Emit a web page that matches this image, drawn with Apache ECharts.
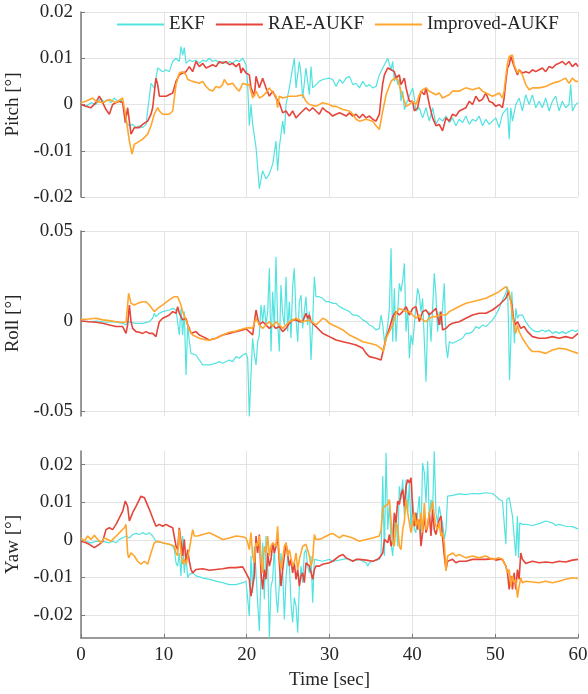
<!DOCTYPE html>
<html>
<head>
<meta charset="utf-8">
<script src="https://cdn.jsdelivr.net/npm/echarts@6/dist/echarts.min.js"></script>
<style>html,body{margin:0;padding:0;background:#fff}#c{width:588px;height:694px}</style>
</head>
<body>
<div id="c"></div>
<script>
const seriesNames = ['EKF', 'RAE-AUKF', 'Improved-AUKF'];
const panelNames = ['Pitch [°]', 'Roll [°]', 'Yaw [°]'];
const xTicks = [0, 10, 20, 30, 40, 50, 60];
const pitchTicks = [-0.02, -0.01, 0, 0.01, 0.02];
const rollTicks = [-0.05, 0, 0.05];
const yawTicks = [-0.02, -0.01, 0, 0.01, 0.02];
const yLimits = [[-0.02, 0.02], [-0.0528, 0.05], [-0.0261, 0.0236]];

const pitchEKF = [[0,0],[0.6,-0.0004],[1.2,0.0004],[1.8,0],[2.4,0.0014],[2.8,0.0004],[3.2,0.0011],[3.6,0.0004],[4.0,0.0014],[4.4,0.0007],[4.8,0.0011],[5.03,0.0004],[5.43,-0.0039],[5.84,-0.0046],[6.24,-0.0043],[6.64,-0.005],[7.04,-0.0046],[7.44,-0.005],[7.85,-0.0043],[8.05,-0.0039],[8.45,0.0046],[8.85,0.0036],[9.26,0.0079],[9.46,0.0075],[9.86,0.0071],[10.26,0.0075],[10.66,0.0071],[11.07,0.0093],[11.47,0.0100],[11.87,0.0093],[12.07,0.0125],[12.27,0.0107],[12.47,0.0123],[12.68,0.0089],[13.08,0.0096],[13.48,0.0093],[13.88,0.0096],[14.29,0.0089],[14.69,0.0096],[15.09,0.0093],[15.49,0.0100],[15.9,0.0093],[16.3,0.0096],[16.7,0.0089],[17.1,0.0093],[17.51,0.0089],[17.91,0.0093],[18.31,0.0089],[18.71,0.0096],[19.11,0.0093],[19.52,0.0100],[19.92,0.0086],[20.12,0.0043],[20.32,-0.0046],[20.52,0],[20.72,-0.0043],[21.13,-0.0093],[21.53,-0.0182],[21.93,-0.0143],[22.33,-0.0161],[22.74,-0.0150],[23.14,-0.0129],[23.54,-0.0079],[23.74,-0.0143],[23.94,-0.0093],[24.35,-0.0036],[24.55,-0.0064],[24.75,0],[25.15,0.0036],[25.55,0.0079],[25.75,0.0100],[25.96,0.0036],[26.36,0.0093],[26.56,0.0064],[26.76,0.0014],[27.16,0.0079],[27.57,0.0021],[27.77,0.0082],[27.97,0.0036],[28.37,0.0043],[28.77,0.0050],[29.18,0.0054],[29.98,0.0057],[30.38,0.0054],[30.8,0.0039],[31.2,0.0054],[31.61,0.0046],[32.01,0.0057],[32.41,0.0061],[32.81,0.0043],[33.21,0.0046],[33.61,0.0036],[34.02,0.0050],[34.42,0.0039],[34.82,0.0043],[35.22,0.0036],[35.62,0.0039],[36.02,0.0064],[36.43,0.0079],[36.83,0.0093],[37.03,0.0100],[37.23,0.0096],[37.43,0.0075],[37.63,0.0093],[37.83,0.0050],[38.03,0.0064],[38.23,0.0043],[38.43,0.0054],[38.63,0.0007],[38.84,0.0029],[39.04,-0.0011],[39.24,0],[39.64,0.0018],[40.04,0.0036],[40.24,0.0014],[40.44,-0.0014],[40.84,-0.0007],[41.24,-0.0029],[41.65,-0.0007],[42.05,-0.0036],[42.45,-0.0007],[42.85,-0.0043],[43.25,-0.0029],[43.65,-0.0036],[44.06,-0.0025],[44.46,-0.0039],[44.86,-0.0029],[45.26,-0.0046],[45.66,-0.0032],[46.06,-0.0039],[46.47,-0.0025],[46.87,-0.0043],[47.27,-0.0032],[47.67,-0.0036],[48.07,-0.0025],[48.47,-0.0046],[48.88,-0.0032],[49.28,-0.0043],[49.68,-0.0036],[50.08,-0.0029],[50.48,-0.0050],[50.88,-0.0021],[51.49,-0.0007],[51.69,-0.0075],[51.89,-0.0007],[52.09,-0.0036],[52.49,0],[52.89,0.0014],[53.29,-0.0014],[53.69,0.0021],[54.1,0],[54.5,0.0021],[54.9,-0.0007],[55.3,0.0007],[55.7,-0.0007],[56.1,0.0014],[56.51,-0.0014],[56.91,0.0007],[57.31,0.0018],[57.71,-0.0014],[58.11,0.0007],[58.51,-0.0007],[58.92,0],[59.12,0.0043],[59.32,-0.0014],[59.72,0],[60,0.0004]];

const pitchRAE = [[0,0],[0.6,-0.0004],[1.2,-0.0007],[1.8,0.0004],[2.21,0.0018],[2.62,0.0004],[3.02,-0.0011],[3.42,-0.0021],[3.82,0],[4.23,0.0004],[4.63,0.0007],[5.03,0.0004],[5.35,-0.0039],[5.63,-0.0007],[6.04,-0.0064],[6.44,-0.0050],[7.04,-0.0050],[7.44,-0.0043],[8.05,-0.0036],[8.45,-0.0021],[8.65,-0.0007],[9.05,0.0057],[9.26,0.0043],[9.46,0.0018],[10.26,0.0018],[11.07,0.0025],[11.47,0.0050],[11.87,0.0064],[12.27,0.0068],[12.68,0.0071],[13.08,0.0082],[13.48,0.0071],[13.88,0.0093],[14.29,0.0082],[14.69,0.0089],[15.09,0.0079],[15.49,0.0082],[15.9,0.0086],[16.3,0.0082],[16.7,0.0093],[17.1,0.0089],[17.51,0.0093],[17.91,0.0086],[18.31,0.0089],[18.71,0.0082],[19.11,0.0089],[19.32,0.0068],[19.52,0.0079],[19.92,0.0068],[20.32,0.0064],[20.52,0.0036],[20.93,0.0018],[21.13,0.0061],[21.53,0.0036],[21.93,0.0057],[22.33,0.0036],[22.74,0.0018],[23.14,0.0029],[23.54,0.0014],[23.94,0.0004],[24.35,-0.0018],[24.75,-0.0014],[25.15,-0.0025],[25.55,-0.0014],[25.96,-0.0029],[26.36,-0.0021],[26.76,-0.0014],[27.16,-0.0007],[27.57,-0.0014],[27.97,-0.0007],[28.37,-0.0014],[28.77,-0.0021],[29.18,-0.0007],[29.58,-0.0014],[29.98,-0.0018],[30.38,-0.0025],[30.8,-0.0021],[31.2,-0.0018],[31.61,-0.0021],[32.01,-0.0025],[32.41,-0.0018],[32.81,-0.0025],[33.21,-0.0021],[33.61,-0.0029],[34.02,-0.0021],[34.42,-0.0029],[34.82,-0.0025],[35.22,-0.0032],[35.62,-0.0036],[36.02,-0.0021],[36.22,0.0014],[36.43,0.0046],[36.63,0.0064],[37.03,0.0079],[37.43,0.0075],[37.83,0.0071],[38.03,0.0057],[38.43,0.0064],[38.63,0.0043],[39.04,0.0057],[39.24,0.0036],[39.64,0.0007],[40.04,0.0007],[40.24,-0.0014],[40.64,-0.0007],[41.04,0.0029],[41.45,0.0021],[41.65,0.0036],[42.05,0],[42.45,-0.0029],[42.85,-0.0046],[43.25,-0.0043],[43.65,-0.0057],[44.06,-0.0029],[44.46,-0.0036],[44.86,-0.0021],[45.26,-0.0025],[45.66,-0.0014],[46.47,-0.0007],[46.87,0.0007],[47.27,0],[47.67,0.0018],[48.07,0.0007],[48.47,0.0011],[48.88,0.0025],[49.28,0.0007],[49.68,0.0004],[50.08,-0.0004],[50.48,0],[50.88,-0.0007],[51.08,0.0014],[51.29,0.0050],[51.49,0.0079],[51.69,0.0086],[51.89,0.0104],[52.09,0.0100],[52.29,0.0082],[52.69,0.0064],[52.89,0.0075],[53.29,0.0068],[53.69,0.0071],[54.1,0.0068],[54.5,0.0075],[54.9,0.0071],[55.3,0.0075],[55.7,0.0079],[56.1,0.0071],[56.51,0.0082],[56.91,0.0079],[57.31,0.0086],[57.71,0.0089],[58.11,0.0093],[58.51,0.0086],[58.92,0.0093],[59.32,0.0082],[59.72,0.0089],[60,0.0082]];

const pitchImp = [[0,0.0004],[0.6,0.0007],[1.41,0.0014],[1.81,0.0007],[2.62,0.0004],[3.42,0.0011],[4.23,0.0004],[5.03,0.0014],[5.43,-0.0029],[5.84,-0.0079],[6.16,-0.0107],[6.44,-0.0086],[6.84,-0.0082],[7.44,-0.0075],[8.05,-0.0064],[8.45,-0.0046],[8.85,-0.0021],[9.26,-0.0007],[9.46,-0.0014],[9.86,-0.0021],[10.66,-0.0021],[11.07,-0.0014],[11.47,0.0043],[11.87,0.0068],[12.27,0.0071],[12.47,0.0075],[12.68,0.0064],[12.88,0.0054],[13.48,0.0050],[14.29,0.0046],[14.69,0.0050],[15.09,0.0039],[15.49,0.0032],[15.9,0.0029],[16.3,0.0039],[16.7,0.0036],[17.1,0.0043],[17.3,0.0054],[17.71,0.0043],[18.31,0.0046],[18.71,0.0036],[19.11,0.0029],[19.52,0.0046],[19.92,0.0043],[20.32,0.0043],[20.72,0.0014],[21.13,0.0029],[21.53,0.0014],[21.93,0.0018],[22.33,0.0025],[22.74,0.0036],[23.14,0.0025],[23.54,0.0018],[23.74,-0.0007],[23.94,0.0018],[24.35,0.0014],[25.15,0.0018],[25.96,0.0018],[26.76,0.0021],[27.16,0.0007],[27.57,0],[28.37,-0.0004],[29.18,0.0004],[29.98,0],[30.38,-0.0004],[30.8,-0.0004],[31.61,-0.0011],[32.41,-0.0014],[32.81,-0.0021],[33.21,-0.0032],[33.61,-0.0036],[34.42,-0.0032],[35.22,-0.0036],[35.62,-0.0046],[36.02,-0.0054],[36.43,-0.0014],[36.83,0.0021],[37.43,0.0050],[37.83,0.0057],[38.23,0.0054],[38.63,0.0029],[39.04,0.0007],[39.24,-0.0004],[39.64,0],[40.04,0.0007],[40.44,0],[40.84,0.0021],[41.24,0.0032],[41.65,0.0036],[42.05,0.0029],[42.45,0.0025],[42.85,0.0021],[43.25,0.0025],[43.65,0.0014],[44.06,0.0018],[44.46,0.0021],[44.86,0.0029],[45.66,0.0029],[46.47,0.0036],[47.27,0.0032],[48.07,0.0036],[48.47,0.0029],[48.88,0.0025],[49.68,0.0018],[50.08,0.0021],[50.48,0.0025],[50.88,0.0014],[51.08,0.0029],[51.29,0.0061],[51.49,0.0089],[51.69,0.0104],[52.09,0.0107],[52.29,0.0086],[52.69,0.0068],[52.89,0.0075],[53.29,0.0064],[53.69,0.0043],[54.1,0.0032],[54.5,0.0036],[55.3,0.0036],[56.1,0.0039],[56.91,0.0046],[57.71,0.0050],[58.51,0.0057],[58.92,0.0046],[59.32,0.0057],[59.72,0.0050],[60,0.0050]];

const rollEKF = [[0,0],[1.0,-0.0004],[2.0,0],[3.0,-0.0007],[4.0,-0.0004],[5.03,-0.0013],[5.43,-0.0022],[5.63,-0.0004],[5.84,-0.0013],[6.64,-0.0013],[7.44,-0.0013],[8.25,-0.0004],[8.65,0.0015],[8.85,0.0043],[9.05,0.0024],[9.46,0.0043],[9.86,0.0052],[10.66,0.0061],[11.07,0.0070],[11.47,0.0061],[11.67,0.0052],[11.87,-0.0078],[12.07,0.0070],[12.27,-0.0078],[12.47,0.0052],[12.68,-0.0300],[12.88,-0.0022],[13.08,-0.0115],[13.28,-0.0180],[13.88,-0.0189],[14.69,-0.0244],[15.49,-0.0244],[16.3,-0.0235],[16.7,-0.0226],[17.1,-0.0235],[17.91,-0.0217],[18.31,-0.0226],[18.71,-0.0198],[19.11,-0.0207],[19.52,-0.0189],[19.92,-0.0180],[20.12,-0.0207],[20.32,-0.0532],[20.52,-0.0300],[20.72,-0.0096],[20.93,-0.0189],[21.13,-0.0244],[21.33,-0.0115],[21.53,-0.0078],[21.73,0.0089],[21.93,-0.0004],[22.13,0.0089],[22.33,-0.0022],[22.54,0.0052],[22.74,0.0293],[22.94,-0.0170],[23.14,0.0163],[23.34,-0.0041],[23.54,0.0357],[23.74,-0.0004],[23.94,-0.0170],[24.14,0.0200],[24.35,0.0033],[24.55,-0.0022],[24.75,0.0246],[24.95,-0.0059],[25.15,0.0107],[25.35,-0.0096],[25.55,0.0191],[25.75,0.0293],[25.96,0.0015],[26.16,-0.0115],[26.36,0.0107],[26.56,0.0144],[26.76,-0.0041],[26.96,0.0052],[27.16,0.0135],[27.36,-0.0022],[27.57,0.0052],[27.77,-0.0217],[27.97,-0.0004],[28.17,0.0246],[28.37,0.0135],[28.77,0.0135],[29.18,0.0126],[29.58,0.0107],[29.98,0.0107],[30.38,0.0098],[30.8,0.0098],[31.2,0.0080],[31.61,0.0070],[32.01,0.0061],[32.41,0.0052],[32.81,0.0033],[33.21,0.0033],[33.61,0.0024],[34.02,0.0006],[34.42,-0.0004],[34.82,-0.0022],[35.22,-0.0031],[35.62,-0.0050],[36.02,-0.0041],[36.22,0.0033],[36.43,-0.0022],[36.63,-0.0115],[36.83,-0.0078],[37.03,-0.0022],[37.23,0.0070],[37.43,0.0404],[37.63,-0.0115],[37.83,0.0181],[38.03,-0.0115],[38.23,0.0052],[38.43,0.0209],[38.63,0.0163],[38.84,0.0228],[39.04,0.0320],[39.24,-0.0059],[39.44,0.0070],[39.64,-0.0207],[39.84,-0.0078],[40.04,-0.0133],[40.24,-0.0022],[40.44,0.0089],[40.64,0.0181],[40.84,0.0144],[41.04,0.0052],[41.24,0.0126],[41.45,-0.0115],[41.65,-0.0337],[41.85,-0.0004],[42.05,0.0052],[42.25,-0.0115],[42.45,0.0070],[42.65,0.0265],[42.85,0.0144],[43.05,-0.0059],[43.25,0.0052],[43.45,-0.0022],[43.65,0.0070],[43.86,0.0209],[44.06,-0.0133],[44.26,-0.0207],[44.46,-0.0115],[44.86,-0.0124],[45.26,-0.0115],[45.66,-0.0106],[46.06,-0.0096],[46.47,-0.0069],[46.87,-0.0069],[47.27,-0.0059],[47.67,-0.0031],[48.07,-0.0041],[48.47,-0.0022],[48.88,-0.0031],[49.28,-0.0013],[49.68,0.0006],[50.08,0.0033],[50.48,0.0070],[50.88,0.0117],[51.29,0.0154],[51.49,0.0191],[51.61,-0.0022],[51.73,-0.0328],[51.89,-0.0115],[52.01,0.0163],[52.17,0.0172],[52.33,-0.0124],[52.49,0.0070],[52.69,0.0015],[52.89,0.0033],[53.29,0.0033],[53.69,-0.0004],[54.1,-0.0031],[54.5,-0.0050],[54.9,-0.0059],[55.3,-0.0059],[55.7,-0.0050],[56.1,-0.0059],[56.51,-0.0050],[56.91,-0.0069],[57.31,-0.0059],[57.71,-0.0069],[58.11,-0.0059],[58.51,-0.0069],[58.92,-0.0059],[59.32,-0.0050],[59.72,-0.0059],[60,-0.0050]];

const rollRAE = [[0,0],[1.0,-0.0004],[1.81,-0.0007],[2.62,-0.0013],[3.42,-0.0022],[4.23,-0.0031],[5.03,-0.0031],[5.43,-0.0069],[5.63,-0.0022],[5.84,0.0089],[6.04,-0.0004],[6.24,-0.0041],[6.64,-0.0059],[7.04,-0.0063],[7.44,-0.0069],[7.85,-0.0059],[8.25,-0.0069],[8.65,-0.0069],[9.05,-0.0087],[9.26,-0.0041],[9.46,-0.0004],[9.86,0.0015],[10.26,0.0024],[10.66,0.0033],[11.07,0.0052],[11.47,0.0043],[11.67,0.0080],[11.87,0.0043],[12.27,0.0006],[12.68,0.0015],[12.88,-0.0022],[13.08,-0.0041],[13.28,-0.0069],[13.48,-0.0078],[13.88,-0.0059],[14.29,-0.0078],[14.69,-0.0087],[15.09,-0.0096],[15.49,-0.0106],[16.3,-0.0096],[17.1,-0.0078],[17.91,-0.0069],[18.71,-0.0059],[19.52,-0.0050],[19.92,-0.0044],[20.32,-0.0059],[20.72,-0.0078],[20.93,-0.0078],[21.13,0.0061],[21.33,0.0015],[21.53,-0.0022],[21.93,-0.0004],[22.33,-0.0022],[22.74,-0.0041],[23.14,-0.0022],[23.54,-0.0041],[23.94,-0.0031],[24.35,-0.0059],[24.75,-0.0041],[25.15,-0.0013],[25.55,0.0006],[25.96,0.0006],[26.36,-0.0004],[26.76,-0.0004],[27.16,0.0043],[27.36,0.0015],[27.57,0.0033],[27.77,-0.0004],[27.97,-0.0013],[28.37,-0.0031],[28.77,-0.0050],[29.18,-0.0069],[29.58,-0.0078],[29.98,-0.0087],[30.38,-0.0096],[30.8,-0.0106],[31.61,-0.0115],[32.41,-0.0124],[33.21,-0.0133],[34.02,-0.0152],[34.42,-0.0180],[34.82,-0.0198],[35.62,-0.0207],[36.22,-0.0217],[36.43,-0.0226],[36.83,-0.0096],[37.23,-0.0041],[37.63,0.0024],[38.03,0.0052],[38.43,0.0033],[38.84,0.0052],[39.24,0.0080],[39.64,0.0033],[40.04,0.0070],[40.44,0.0080],[40.84,-0.0004],[41.24,0.0052],[41.65,0.0061],[42.05,0.0033],[42.45,0.0052],[42.85,0.0070],[43.25,-0.0022],[43.45,0.0052],[43.65,-0.0050],[44.06,-0.0041],[44.46,-0.0022],[44.86,-0.0013],[45.66,-0.0004],[46.47,0.0015],[47.27,0.0033],[48.07,0.0043],[48.88,0.0043],[49.68,0.0061],[50.48,0.0089],[51.29,0.0126],[51.61,0.0163],[51.81,0.0154],[52.01,0.0089],[52.21,0.0015],[52.41,-0.0022],[52.69,-0.0004],[53.09,-0.0041],[53.49,-0.0031],[53.9,-0.0059],[54.5,-0.0087],[55.3,-0.0096],[56.1,-0.0096],[56.91,-0.0087],[57.71,-0.0096],[58.51,-0.0087],[59.32,-0.0096],[60,-0.0069]];

const rollImp = [[0,0.0009],[1.0,0.0011],[1.81,0.0015],[2.62,0.0006],[3.42,0.0002],[4.23,-0.0004],[5.03,-0.0007],[5.43,-0.0007],[5.63,0.0089],[5.75,0.0154],[6.04,0.0098],[6.44,0.0089],[6.84,0.0098],[7.44,0.0107],[7.85,0.0107],[8.25,0.0089],[8.85,0.0052],[9.26,0.0070],[9.86,0.0089],[10.66,0.0117],[11.27,0.0135],[11.47,0.0144],[11.67,0.0135],[12.07,0.0089],[12.27,0.0052],[12.68,0.0006],[13.08,-0.0050],[13.48,-0.0078],[14.29,-0.0096],[15.09,-0.0106],[15.49,-0.0106],[16.3,-0.0096],[17.1,-0.0078],[17.91,-0.0063],[18.71,-0.0056],[19.52,-0.0044],[20.32,-0.0037],[20.72,-0.0041],[21.13,0.0015],[21.53,-0.0022],[21.93,-0.0041],[22.33,-0.0022],[22.74,-0.0004],[23.14,-0.0031],[23.54,-0.0004],[23.94,-0.0022],[24.35,-0.0041],[24.75,-0.0022],[25.15,-0.0004],[25.96,0.0015],[26.76,-0.0004],[27.57,0.0006],[28.37,-0.0022],[28.77,-0.0004],[29.18,0.0015],[29.58,0.0006],[29.98,-0.0013],[30.38,-0.0022],[30.8,-0.0031],[31.61,-0.0050],[32.41,-0.0078],[33.21,-0.0096],[34.02,-0.0115],[34.82,-0.0124],[35.62,-0.0133],[36.22,-0.0152],[36.5,-0.0170],[36.83,-0.0096],[37.23,-0.0059],[37.63,-0.0022],[38.03,0.0043],[38.43,0.0070],[38.84,0.0061],[39.24,0.0052],[39.64,0.0052],[40.04,0.0033],[40.44,0.0015],[40.84,0.0033],[41.24,0.0006],[41.65,-0.0004],[42.05,0.0015],[42.45,0.0024],[42.85,0.0024],[43.25,0.0033],[43.65,0.0033],[44.06,0.0033],[44.46,0.0052],[44.86,0.0061],[45.66,0.0080],[46.47,0.0098],[47.27,0.0107],[48.07,0.0117],[48.88,0.0126],[49.68,0.0144],[50.48,0.0163],[51.29,0.0191],[51.49,0.0191],[51.69,0.0163],[51.89,0.0107],[52.09,0.0033],[52.29,-0.0022],[52.49,-0.0069],[52.69,-0.0022],[52.89,-0.0059],[53.29,-0.0096],[53.69,-0.0124],[54.1,-0.0152],[54.5,-0.0170],[55.3,-0.0170],[56.1,-0.0180],[56.91,-0.0161],[57.71,-0.0152],[58.51,-0.0156],[59.32,-0.0170],[60,-0.0180]];

const yawEKF = [[0,0.0001],[0.6,-0.0004],[1.2,-0.0008],[1.81,-0.0004],[2.62,-0.0004],[3.42,-0.0008],[3.82,-0.0004],[4.23,-0.0008],[4.63,0.0001],[5.03,0.0005],[5.43,0.0010],[5.84,0.0005],[6.24,0.0014],[6.64,0.0017],[7.04,0.0014],[7.44,0.0019],[7.85,0.0014],[8.25,0.0019],[8.65,0.0010],[9.05,-0.0004],[9.86,-0.0008],[10.66,-0.0012],[11.07,-0.0017],[11.27,-0.0026],[11.47,-0.0061],[11.67,-0.0070],[11.87,-0.0035],[12.07,-0.0096],[12.27,0.0010],[12.47,-0.0088],[12.68,-0.0043],[12.88,-0.0101],[13.08,-0.0092],[13.48,-0.0088],[13.88,-0.0096],[14.69,-0.0101],[15.49,-0.0105],[16.3,-0.0110],[17.1,-0.0114],[17.91,-0.0119],[18.71,-0.0119],[19.52,-0.0114],[19.92,-0.0110],[20.12,-0.0105],[20.32,-0.0203],[20.52,-0.0043],[20.72,-0.0141],[20.93,-0.0017],[21.13,-0.0088],[21.33,-0.0167],[21.53,-0.0242],[21.73,-0.0088],[21.93,-0.0008],[22.13,-0.0158],[22.33,0.0010],[22.54,-0.0061],[22.74,-0.0260],[22.94,-0.0123],[23.14,-0.0105],[23.34,-0.0017],[23.54,-0.0141],[23.74,-0.0194],[23.94,-0.0123],[24.14,-0.0035],[24.35,-0.0088],[24.55,-0.0212],[24.75,-0.0105],[24.95,-0.0043],[25.15,-0.0061],[25.35,-0.0167],[25.55,-0.0220],[25.75,-0.0154],[25.96,-0.0176],[26.16,-0.0247],[26.36,-0.0123],[26.56,-0.0070],[26.76,-0.0114],[26.96,-0.0035],[27.16,-0.0026],[27.36,-0.0070],[27.57,-0.0088],[27.77,-0.0043],[27.97,-0.0167],[28.17,-0.0052],[28.37,-0.0057],[29.18,-0.0057],[29.98,-0.0052],[30.38,-0.0057],[31.2,-0.0054],[32.01,-0.0050],[32.81,-0.0057],[33.61,-0.0052],[34.02,-0.0057],[34.42,-0.0061],[34.62,-0.0070],[34.82,-0.0061],[35.22,-0.0057],[35.62,-0.0054],[36.02,-0.0052],[36.22,-0.0043],[36.43,0.0169],[36.63,-0.0043],[36.83,0.0231],[37.03,0.0027],[37.23,0.0098],[37.43,-0.0008],[37.63,-0.0043],[37.83,0.0036],[38.03,0.0063],[38.23,-0.0017],[38.43,0.0142],[38.63,0.0107],[38.84,0.0160],[39.04,0.0063],[39.24,0.0160],[39.44,0.0072],[39.64,0.0151],[39.84,0.0027],[40.04,0.0107],[40.24,0.0027],[40.44,0.0019],[40.64,0.0072],[40.84,0.0116],[41.04,0.0001],[41.24,0.0204],[41.45,0.0178],[41.65,0.0098],[41.85,0.0209],[42.05,0.0054],[42.25,0.0107],[42.45,0.0081],[42.65,0.0235],[42.85,0.0072],[43.05,0.0045],[43.25,0.0089],[43.45,0.0063],[43.65,0.0045],[43.86,0.0001],[44.06,0.0027],[44.26,0.0116],[44.46,0.0120],[44.86,0.0118],[45.66,0.0122],[46.47,0.0120],[47.27,0.0123],[48.07,0.0122],[48.88,0.0125],[49.68,0.0123],[50.08,0.0116],[50.48,0.0107],[50.88,0.0103],[51.08,0.0103],[51.29,-0.0012],[51.41,0.0107],[51.69,0.0112],[51.89,0.0107],[52.09,0.0063],[52.29,0.0063],[52.49,-0.0043],[52.69,0.0063],[52.81,-0.0048],[52.97,0.0045],[53.13,0.0045],[53.29,0.0041],[53.69,0.0041],[54.5,0.0038],[55.3,0.0043],[56.1,0.0050],[56.91,0.0045],[57.31,0.0038],[57.71,0.0041],[58.51,0.0036],[59.32,0.0035],[60,0.0029]];

const yawRAE = [[0,-0.0004],[0.6,-0.0008],[1.0,-0.0012],[1.61,-0.0021],[2.21,-0.0012],[2.62,-0.0004],[3.02,0.0027],[3.42,0.0032],[3.82,0.0027],[4.23,0.0041],[4.63,0.0058],[5.03,0.0076],[5.35,0.0103],[5.63,0.0089],[5.84,0.0050],[6.24,0.0072],[6.64,0.0089],[7.04,0.0107],[7.24,0.0116],[7.65,0.0112],[7.85,0.0107],[8.25,0.0081],[8.65,0.0058],[9.05,0.0036],[9.46,0.0041],[9.86,0.0036],[10.26,0.0041],[10.66,0.0036],[11.07,0.0032],[11.47,-0.0017],[11.67,-0.0026],[11.87,0.0032],[12.07,0.0027],[12.27,-0.0043],[12.47,0.0001],[12.68,-0.0061],[12.88,-0.0026],[13.08,-0.0057],[13.28,-0.0079],[13.48,-0.0088],[13.88,-0.0079],[14.69,-0.0077],[15.49,-0.0081],[16.3,-0.0079],[17.1,-0.0077],[17.91,-0.0074],[18.71,-0.0074],[19.52,-0.0072],[19.92,-0.0088],[20.32,-0.0105],[20.52,-0.0150],[20.72,-0.0123],[20.93,-0.0096],[21.13,0.0010],[21.33,-0.0035],[21.53,0.0014],[21.73,-0.0088],[21.93,-0.0132],[22.13,-0.0079],[22.33,-0.0105],[22.54,-0.0035],[22.74,-0.0070],[22.94,-0.0052],[23.14,-0.0008],[23.34,-0.0035],[23.54,-0.0017],[23.74,0.0010],[23.94,-0.0061],[24.14,-0.0123],[24.35,-0.0079],[24.55,-0.0043],[24.75,-0.0008],[25.15,-0.0070],[25.35,-0.0052],[25.55,-0.0088],[25.75,-0.0061],[25.96,-0.0105],[26.16,-0.0079],[26.36,-0.0123],[26.56,-0.0096],[26.76,-0.0088],[26.96,-0.0114],[27.16,-0.0061],[27.57,-0.0070],[27.97,-0.0105],[28.17,-0.0079],[28.37,-0.0070],[28.77,-0.0070],[29.18,-0.0065],[29.98,-0.0061],[30.38,-0.0057],[31.2,-0.0043],[31.61,-0.0039],[32.01,-0.0048],[32.41,-0.0052],[32.81,-0.0057],[33.21,-0.0052],[33.61,-0.0052],[34.42,-0.0054],[35.22,-0.0057],[35.62,-0.0054],[36.02,-0.0048],[36.43,-0.0035],[36.63,0.0001],[37.03,-0.0008],[37.23,0.0014],[37.43,-0.0017],[37.63,0.0001],[37.83,0.0072],[38.03,0.0045],[38.23,0.0103],[38.43,0.0094],[38.63,0.0120],[38.84,0.0134],[39.04,0.0089],[39.24,0.0142],[39.44,0.0160],[39.64,0.0151],[39.84,0.0165],[40.04,0.0081],[40.24,0.0036],[40.44,0.0072],[40.64,0.0027],[40.84,0.0054],[41.04,-0.0017],[41.24,0.0019],[41.45,0.0063],[41.65,0.0019],[41.85,0.0036],[42.05,0.0072],[42.25,0.0010],[42.45,0.0081],[42.65,0.0027],[42.85,0.0014],[43.05,0.0036],[43.25,0.0054],[43.45,0.0063],[43.65,0.0005],[43.86,-0.0043],[44.06,-0.0079],[44.26,-0.0057],[44.46,-0.0061],[44.86,-0.0052],[45.26,-0.0061],[45.66,-0.0057],[46.47,-0.0057],[47.27,-0.0052],[48.07,-0.0052],[48.88,-0.0052],[49.68,-0.0050],[50.08,-0.0054],[50.48,-0.0052],[50.88,-0.0052],[51.29,-0.0070],[51.49,-0.0088],[51.69,-0.0132],[51.89,-0.0096],[52.09,-0.0132],[52.29,-0.0088],[52.49,-0.0132],[52.69,-0.0079],[52.89,-0.0105],[53.09,-0.0035],[53.29,-0.0052],[53.69,-0.0063],[54.5,-0.0057],[55.3,-0.0061],[56.1,-0.0059],[56.91,-0.0061],[57.71,-0.0057],[58.51,-0.0059],[59.32,-0.0054],[60,-0.0052]];

const yawImp = [[0,0.0005],[0.4,-0.0004],[0.81,0.0010],[1.2,0.0001],[1.61,0.0012],[2.01,0.0001],[2.41,-0.0008],[2.82,0.0005],[3.22,0.0001],[3.62,-0.0004],[4.02,0.0005],[4.43,0.0014],[4.83,0.0023],[5.23,0.0032],[5.43,0.0041],[5.63,-0.0035],[5.75,-0.0048],[6.04,-0.0035],[6.44,-0.0043],[6.84,-0.0057],[7.24,-0.0065],[7.65,-0.0057],[8.05,-0.0065],[8.45,-0.0035],[8.85,-0.0008],[9.26,-0.0004],[9.86,-0.0008],[10.66,-0.0012],[11.27,-0.0017],[11.47,-0.0035],[11.67,-0.0043],[11.87,0.0027],[12.07,-0.0035],[12.27,-0.0065],[12.47,-0.0052],[12.68,-0.0065],[13.08,-0.0026],[13.28,0.0001],[13.48,0.0027],[13.68,0.0010],[14.08,0.0010],[14.69,0.0014],[15.49,0.0019],[16.3,0.0010],[17.1,0.0001],[17.91,0.0005],[18.71,0.0010],[19.52,0.0008],[19.92,0.0005],[20.12,-0.0008],[20.32,-0.0026],[20.52,0.0019],[20.72,-0.0043],[20.93,-0.0061],[21.13,-0.0008],[21.33,-0.0017],[21.53,0.0010],[21.73,-0.0061],[21.93,-0.0088],[22.13,-0.0017],[22.33,-0.0035],[22.54,0.0010],[22.74,-0.0043],[22.94,-0.0017],[23.14,-0.0008],[23.54,-0.0017],[23.74,0.0036],[23.94,-0.0043],[24.14,-0.0079],[24.35,-0.0052],[24.55,-0.0017],[24.75,-0.0008],[24.95,-0.0043],[25.15,-0.0026],[25.55,-0.0070],[25.75,-0.0061],[25.96,-0.0035],[26.16,-0.0079],[26.36,-0.0052],[26.76,-0.0017],[27.16,-0.0012],[27.57,-0.0043],[27.77,-0.0070],[27.97,-0.0052],[28.17,0.0014],[28.37,0.0001],[28.77,0.0001],[29.18,0.0005],[29.98,0.0014],[30.38,0.0017],[31.2,0.0005],[31.61,0.0012],[32.01,0.0010],[32.81,0.0005],[33.61,-0.0004],[34.42,0.0001],[35.22,0.0005],[36.02,0.0010],[36.22,0.0027],[36.43,0.0081],[36.63,0.0089],[36.83,0.0085],[37.03,0.0094],[37.23,0.0107],[37.43,0.0112],[37.63,-0.0008],[37.83,-0.0017],[38.03,0.0045],[38.23,0.0036],[38.43,-0.0017],[38.63,-0.0026],[38.84,0.0027],[39.04,0.0050],[39.24,0.0107],[39.44,0.0072],[39.64,0.0045],[39.84,0.0019],[40.04,0.0045],[40.24,0.0072],[40.44,0.0036],[40.64,0.0054],[40.84,0.0027],[41.04,0.0072],[41.24,0.0019],[41.45,0.0098],[41.65,0.0027],[41.85,0.0036],[42.05,0.0072],[42.25,0.0081],[42.45,0.0103],[42.65,0.0063],[42.85,0.0036],[43.05,0.0027],[43.25,0.0045],[43.45,0.0010],[43.65,0.0019],[43.86,-0.0008],[44.06,-0.0083],[44.26,-0.0043],[44.46,-0.0039],[44.86,-0.0035],[45.26,-0.0043],[45.66,-0.0039],[46.47,-0.0048],[47.27,-0.0043],[48.07,-0.0048],[48.88,-0.0043],[49.68,-0.0052],[50.48,-0.0048],[50.88,-0.0052],[51.29,-0.0070],[51.49,-0.0088],[51.69,-0.0079],[51.89,-0.0123],[52.09,-0.0096],[52.29,-0.0114],[52.49,-0.0105],[52.69,-0.0154],[52.89,-0.0123],[53.09,-0.0101],[53.29,-0.0114],[53.69,-0.0110],[54.5,-0.0112],[55.3,-0.0114],[56.1,-0.0110],[56.91,-0.0114],[57.71,-0.0110],[58.51,-0.0105],[59.32,-0.0101],[60,-0.0103]];

const panelData = [[pitchEKF, pitchRAE, pitchImp], [rollEKF, rollRAE, rollImp], [yawEKF, yawRAE, yawImp]];
const panelTicks = [pitchTicks, rollTicks, yawTicks];

const colors = ['#52e3e0', '#e5453a', '#ffa62e'];
const widths = [1.2, 1.6, 1.6];
const FONT = '"Liberation Serif", "Times New Roman", serif';
const TXT = '#262626';
const AXC = '#7a7a7a';
const GRIDC = '#e3e3e3';
const FS = 19;

const grids = [
  {left: 81, right: 10, top: 12, height: 185, outerBoundsMode: 'none', containLabel: false},
  {left: 81, right: 10, top: 231, height: 185, outerBoundsMode: 'none', containLabel: false},
  {left: 81, right: 10, top: 451, height: 187, outerBoundsMode: 'none', containLabel: false}
];

const xAxes = grids.map((g, i) => ({
  type: 'value', gridIndex: i, min: 0, max: 60, interval: 10,
  axisLine: {show: i === 2, onZero: false, lineStyle: {color: AXC, width: 1.5}},
  axisTick: {show: i === 2, inside: true, length: 4, lineStyle: {color: AXC}},
  axisLabel: {show: i === 2, margin: 8, fontFamily: FONT, fontSize: FS, color: TXT},
  splitLine: {show: true, lineStyle: {color: GRIDC, width: 1}},
  name: i === 2 ? 'Time [sec]' : '', nameLocation: 'middle', nameGap: 33,
  nameTextStyle: {fontFamily: FONT, fontSize: FS, color: TXT}
}));

const yAxes = grids.map((g, i) => ({
  type: 'value', gridIndex: i, min: yLimits[i][0], max: yLimits[i][1],
  axisLine: {show: true, onZero: false, lineStyle: {color: AXC, width: 1.5}},
  axisTick: {show: true, inside: true, length: 4, lineStyle: {color: AXC}, customValues: panelTicks[i]},
  axisLabel: {margin: 8, fontFamily: FONT, fontSize: FS, color: TXT, customValues: panelTicks[i],
    formatter: v => (Math.abs(v) < 1e-12 ? '0' : String(+v.toFixed(4)))},
  splitLine: {show: true, lineStyle: {color: GRIDC, width: 1}},
  name: panelNames[i], nameLocation: 'middle', nameGap: 56, nameRotate: 90,
  nameTextStyle: {fontFamily: FONT, fontSize: FS, color: TXT}
}));

const series = [];
panelData.forEach((arrs, p) => {
  arrs.forEach((d, s) => {
    series.push({
      name: seriesNames[s], type: 'line', xAxisIndex: p, yAxisIndex: p,
      data: d, symbol: 'none', showSymbol: false, clip: true, sampling: null,
      lineStyle: {color: colors[s], width: widths[s]},
      itemStyle: {color: colors[s]}, z: 2 + s
    });
  });
});

const chart = echarts.init(document.getElementById('c'), null, {renderer: 'canvas'});
chart.setOption({
  animation: false,
  backgroundColor: '#ffffff',
  grid: grids,
  xAxis: xAxes,
  yAxis: yAxes,
  legend: {
    data: seriesNames, left: 111, top: 10, itemWidth: 47, itemHeight: 18, itemGap: 10,
    itemStyle: {opacity: 0},
    textStyle: {fontFamily: FONT, fontSize: FS, color: TXT}
  },
  series: series
});
</script>
</body>
</html>
